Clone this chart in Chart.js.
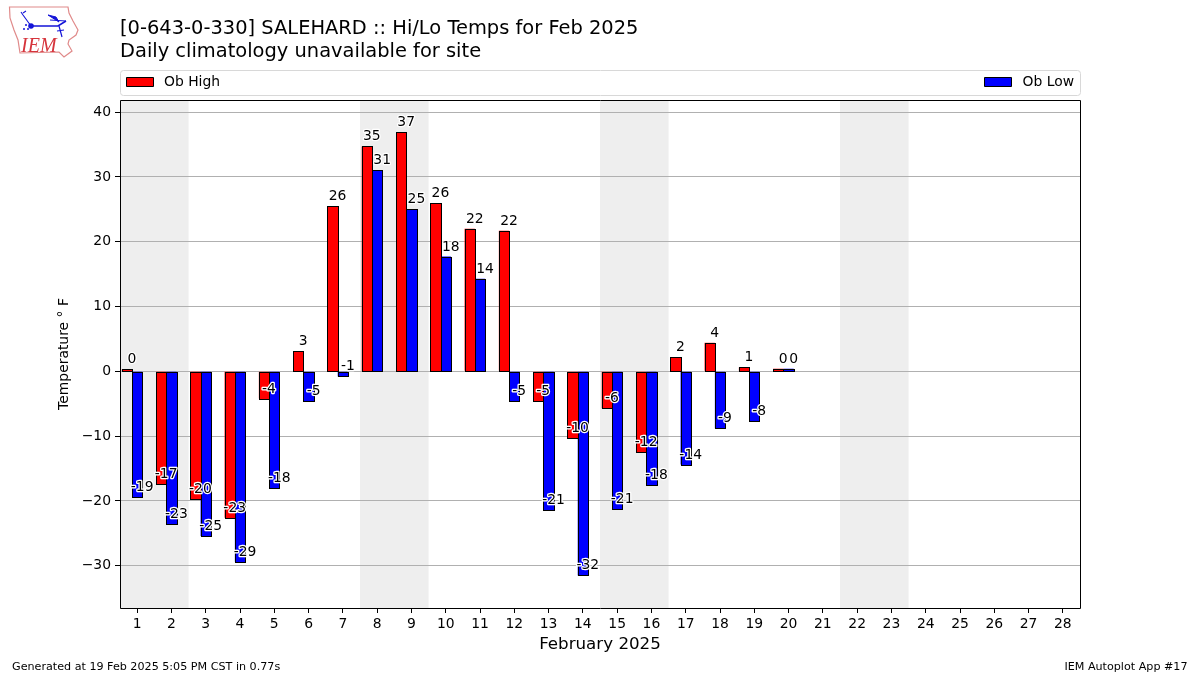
<!DOCTYPE html>
<html><head><meta charset="utf-8">
<style>
html,body{margin:0;padding:0;background:#fff;width:1200px;height:675px;overflow:hidden}
#wrap{position:relative;width:1200px;height:675px}
canvas{position:absolute;left:0;top:0}
svg{position:absolute;left:0;top:0}
</style>
<script src="https://cdn.jsdelivr.net/npm/chart.js@4"></script>
</head><body>
<div id="wrap">
<canvas id="c" width="1200" height="675"></canvas>
<svg width="90" height="65" viewBox="0 0 90 65">
<path d="M9.5 7 L68 7 L69 13 L73 21 L78 30 L76 35 L69 40 L68 44 L72 51 L64 57 L59 52 L20 53 L18 40 L14 30 L10 18 Z" fill="#fff" stroke="#e08a8a" stroke-width="1.2"/>
<g stroke="#1414d8" fill="#1414d8">
<path d="M31 26 L58 26 L66 21" stroke-width="1.6" fill="none"/>
<path d="M31 26 L23 15 M23 15 L21 12 M23 13 L26 11" stroke-width="1.1" fill="none"/>
<path d="M48 15 L56 17 L59 22 Z" stroke-width="1"/>
<path d="M50 20 L66 21" stroke-width="1"/>
<path d="M59 26 L62 37 M57 31 L64 30" stroke-width="1.2"/>
<circle cx="31" cy="26" r="2.8" stroke="none"/>
<circle cx="24" cy="29" r="1" stroke="none"/><circle cx="26" cy="25" r="1" stroke="none"/><circle cx="28" cy="29" r="1" stroke="none"/>
</g>
<text x="21" y="52" font-family="Liberation Serif" font-style="italic" font-size="20" fill="#d6343c">IEM</text>
</svg>
</div>
<script>
const days = ['1','2','3','4','5','6','7','8','9','10','11','12','13','14','15','16','17','18','19','20','21','22','23','24','25','26','27','28'];
const obHigh = [0.3,-17.4,-19.7,-22.6,-4.2,3.1,25.5,34.7,36.9,25.9,22.0,21.7,-4.6,-10.3,-5.7,-12.4,2.2,4.4,0.6,0.4];
const obLow = [-19.4,-23.5,-25.4,-29.4,-18.0,-4.6,-0.8,31.0,25.0,17.7,14.3,-4.6,-21.4,-31.51,-21.3,-17.6,-14.4,-8.8,-7.7,0.4];
const weekendDays = [['1','2'],['8','9'],['15','16'],['22','23']];
const titleLines = ['[0-643-0-330] SALEHARD :: Hi/Lo Temps for Feb 2025','Daily climatology unavailable for site'];
const footLeft = 'Generated at 19 Feb 2025 5:05 PM CST in 0.77s';
const footRight = 'IEM Autoplot App #17';
const FONT = '"DejaVu Sans"';

const paint = {
  id:'paint',
  beforeDraw(ch){
    const {ctx,chartArea:a,scales:{x}} = ch;
    ctx.save();
    ctx.fillStyle='#fff';ctx.fillRect(0,0,ch.width,ch.height);
    ctx.fillStyle='#eeeeee';
    const half=(x.getPixelForValue(1)-x.getPixelForValue(0))/2;
    weekendDays.forEach(([s,e])=>{
      const l=x.getPixelForValue(days.indexOf(s))-half;
      const r=x.getPixelForValue(days.indexOf(e))+half;
      ctx.fillRect(l,a.top,r-l,a.bottom-a.top);
    });
    ctx.restore();
  },
  afterDatasetsDraw(ch){
    const {ctx} = ch;
    ctx.save();
    ctx.strokeStyle='#000';ctx.lineWidth=1;
    ch.data.datasets.forEach((ds,i)=>{
      ch.getDatasetMeta(i).data.forEach((el,j)=>{
        if(ds.data[j]==null)return;
        const l=Math.round(el.x-el.width/2)+.5, r=Math.round(el.x+el.width/2)+.5;
        const t=Math.round(Math.min(el.y,el.base))+.5, b=Math.round(Math.max(el.y,el.base))+.5;
        ctx.fillStyle=ds.backgroundColor;
        ctx.fillRect(l,t,r-l,b-t);
        ctx.strokeRect(l,t,r-l,b-t);
      });
    });
    ctx.restore();
  },
  afterDraw(ch){
    const {ctx,chartArea:a} = ch;
    ctx.save();
    ctx.font='13.9px '+FONT;ctx.textAlign='center';ctx.textBaseline='alphabetic';ctx.lineJoin='round';
    ch.data.datasets.forEach((ds,i)=>{
      const meta=ch.getDatasetMeta(i);
      ds.data.forEach((v,j)=>{
        if(v==null)return;
        const el=meta.data[j];
        const t=String(Math.round(v)===0?0:Math.round(v));
        const px=el.x+5,py=el.y-6;
        ctx.strokeStyle='#fff';ctx.lineWidth=2.5;ctx.strokeText(t,px,py);
        ctx.fillStyle='#000';ctx.fillText(t,px,py);
      });
    });
    ctx.strokeStyle='#000';ctx.lineWidth=1;
    ctx.strokeRect(Math.round(a.left)+.5,Math.round(a.top)+.5,Math.round(a.right-a.left),Math.round(a.bottom-a.top));
    ctx.strokeStyle='#d8d8d8';ctx.fillStyle='#fff';
    ctx.beginPath();ctx.roundRect(a.left+.5,70.5,a.right-a.left,25,3);ctx.fill();ctx.stroke();
    const d=ch.data.datasets;
    ctx.font='13.9px '+FONT;ctx.textBaseline='middle';ctx.textAlign='left';
    ctx.fillStyle=d[0].backgroundColor;ctx.strokeStyle='#000';
    ctx.fillRect(a.left+6.5,77.5,27,9);ctx.strokeRect(a.left+6.5,77.5,27,9);
    ctx.fillStyle='#000';ctx.fillText(d[0].label,a.left+44,82);
    const tx=1022.5;
    ctx.fillStyle=d[1].backgroundColor;
    ctx.fillRect(tx-38,77.5,27,9);ctx.strokeRect(tx-38,77.5,27,9);
    ctx.fillStyle='#000';ctx.fillText(d[1].label,tx,82);
    ctx.font='11.15px '+FONT;ctx.textBaseline='alphabetic';
    ctx.textAlign='left';ctx.fillText(footLeft,12,670);
    ctx.textAlign='right';ctx.fillText(footRight,1187.5,670);
    ctx.restore();
  }
};

const barStyle = {borderWidth:0,categoryPercentage:0.9,barPercentage:1};
new Chart(document.getElementById('c'),{
  type:'bar',
  data:{labels:days,datasets:[
    {label:'Ob High',data:obHigh,backgroundColor:'#ff0000',...barStyle},
    {label:'Ob Low',data:obLow,backgroundColor:'#0000ff',...barStyle},
    {label:'',data:[],backgroundColor:'#fff',...barStyle}
  ]},
  plugins:[paint],
  options:{
    responsive:false,animation:false,devicePixelRatio:1,
    layout:{padding:{left:56,right:120,top:18,bottom:20}},
    plugins:{
      legend:{display:false},tooltip:{enabled:false},
      title:{display:true,text:titleLines,align:'start',fullSize:false,color:'#000',
        font:{family:FONT,size:19.44,weight:'normal',lineHeight:1.15},padding:{top:0,bottom:37.3}}
    },
    scales:{
      x:{
        afterFit(s){s.height=47;},
        offset:true,
        grid:{display:true,drawOnChartArea:false,drawTicks:true,tickLength:5,tickColor:'#000',offset:false},
        border:{display:false},
        ticks:{color:'#000',font:{family:FONT,size:13.9},maxRotation:0,autoSkip:false,padding:3},
        title:{display:true,text:'February 2025',color:'#000',font:{family:FONT,size:16.7},padding:{top:2,bottom:0}}
      },
      y:{
        min:-36.53,max:41.87,
        afterFit(s){s.width=64;},
        grid:{color:'#b0b0b0',lineWidth:1,tickColor:'#000',tickLength:5},
        border:{display:false},
        ticks:{stepSize:10,includeBounds:false,color:'#000',font:{family:FONT,size:13.9},padding:4,
          callback:v=>String(v).replace('-','\u2212')},
        title:{display:true,text:'Temperature \u00b0 F',color:'#000',font:{family:FONT,size:13.9},padding:0}
      }
    }
  }
});
</script>
</body></html>
